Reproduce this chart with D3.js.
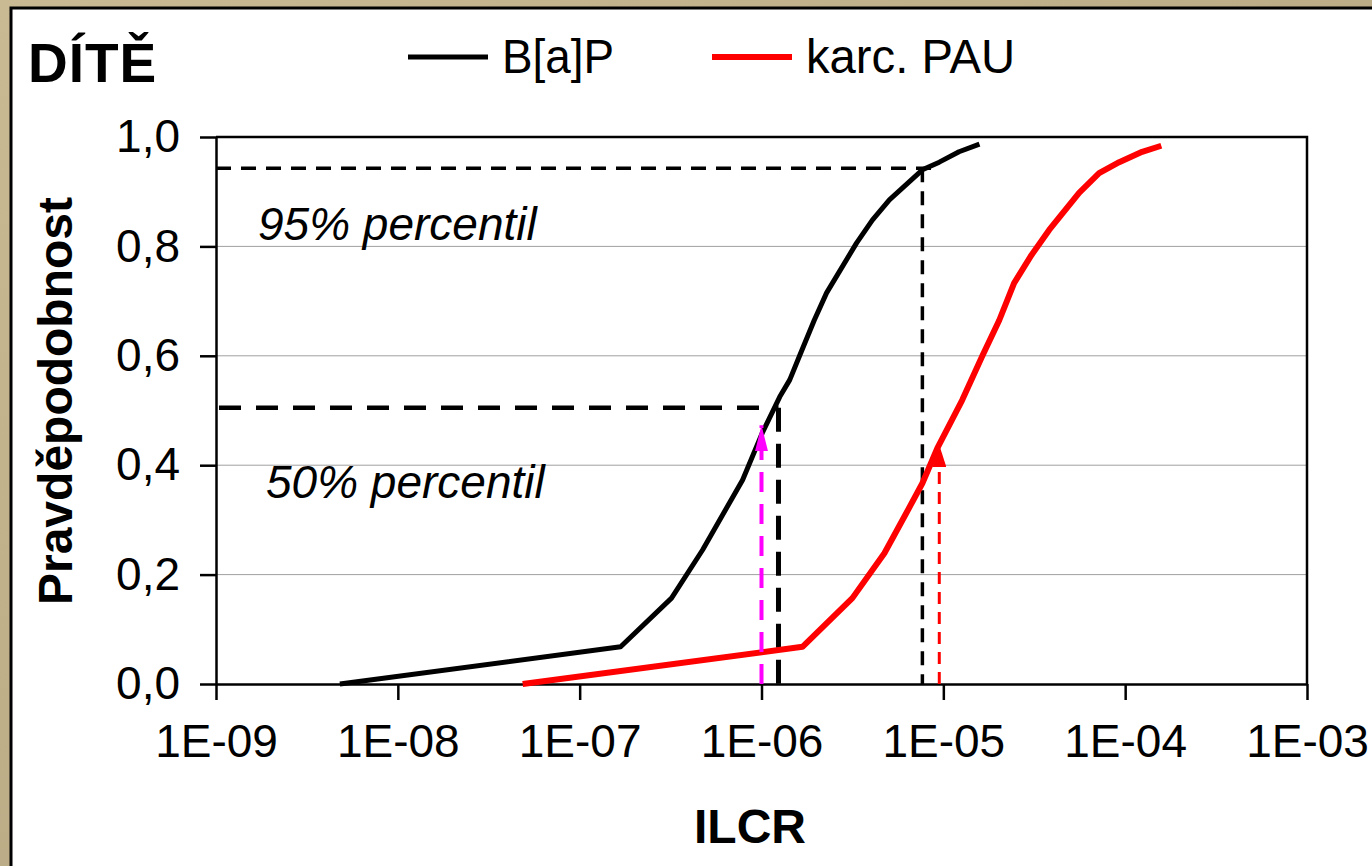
<!DOCTYPE html>
<html lang="cs">
<head>
	<meta charset="UTF-8">
	<script src="https://d3js.org/d3.v7.min.js"></script>
	<title>DÍTĚ - ILCR</title>
	<style>
		body { margin: 0; }
		svg { display: block; font-family: "Liberation Sans", Arial, sans-serif; }
		.grid line { stroke: #a0a0a0; stroke-width: 1; }
		.axis path, .axis line { stroke: #000; stroke-width: 2.5; }
		.axis text { font-size: 46px; fill: #000; }
	</style>
</head>
<body>
	<svg width="1372" height="866"></svg>

	<script>
		// kumulativni rozdeleni ILCR
		const bapIlcr = [4.8e-9, 1.68e-7, 3.2e-7, 4.74e-7, 7.87e-7, 1.01e-6, 1.26e-6, 1.43e-6, 1.62e-6,
			1.95e-6, 2.28e-6, 3.33e-6, 4.07e-6, 5.05e-6, 7.67e-6, 9.5e-6, 1.22e-5, 1.58e-5];
		const bapProb = [0, 0.068, 0.157, 0.245, 0.373, 0.459, 0.525, 0.556, 0.6,
			0.665, 0.715, 0.806, 0.848, 0.885, 0.94, 0.954, 0.973, 0.987];

		const pauIlcr = [4.86e-8, 1.68e-6, 3.16e-6, 4.74e-6, 6.27e-6, 7.67e-6, 9.27e-6, 1.27e-5, 1.64e-5,
			2.03e-5, 2.45e-5, 3.05e-5, 3.82e-5, 5.58e-5, 7.19e-5, 9.27e-5, 1.24e-4, 1.58e-4];
		const pauProb = [0, 0.068, 0.157, 0.239, 0.313, 0.367, 0.431, 0.519, 0.6,
			0.665, 0.733, 0.784, 0.83, 0.898, 0.934, 0.954, 0.973, 0.984];

		const xTicks = [1e-9, 1e-8, 1e-7, 1e-6, 1e-5, 1e-4, 1e-3];
		const xTickLabels = ['1E-09', '1E-08', '1E-07', '1E-06', '1E-05', '1E-04', '1E-03'];
		const yTicks = [0, 0.2, 0.4, 0.6, 0.8, 1.0];
		const yTickLabels = ['0,0', '0,2', '0,4', '0,6', '0,8', '1,0'];

		// percentily: [ILCR, pravdepodobnost]
		const p95 = [7.67e-6, 0.943];
		const p50 = [1.24e-6, 0.505];
		const arrowBap = [1.0e-6, 0.473];
		const arrowPau = [9.5e-6, 0.437];

		const svg = d3.select('svg');

		// ramecek
		const defs = svg.append('defs');
		const grad = defs.append('linearGradient').attr('id', 'bg')
			.attr('x1', '0').attr('y1', '0').attr('x2', '1').attr('y2', '1');
		grad.append('stop').attr('offset', '0%').attr('stop-color', '#c9ba93');
		grad.append('stop').attr('offset', '100%').attr('stop-color', '#b09f7b');
		svg.append('rect').attr('width', 1372).attr('height', 866).attr('fill', 'url(#bg)');
		svg.append('rect')
			.attr('x', 11).attr('y', 8).attr('width', 1400).attr('height', 900)
			.attr('fill', '#fff').attr('stroke', '#000').attr('stroke-width', 3);

		const x = d3.scaleLog().domain([1e-9, 1e-3]).range([216, 1307]);
		const y = d3.scaleLinear().domain([0, 1]).range([684, 137]);

		// mrizka
		svg.append('g').attr('class', 'grid')
			.selectAll('line')
			.data(yTicks.slice(1, -1))
			.enter()
			.append('line')
			.attr('x1', x.range()[0]).attr('x2', x.range()[1])
			.attr('y1', d => y(d)).attr('y2', d => y(d));

		// horni a prava hrana
		svg.append('path')
			.attr('d', `M${x(1e-9)},${y(1)}H${x(1e-3)}V${y(0)}`)
			.attr('fill', 'none').attr('stroke', '#000').attr('stroke-width', 2.5);

		svg.append('g').attr('class', 'axis')
			.attr('transform', `translate(0,${y(0)})`)
			.call(d3.axisBottom(x).tickValues(xTicks).tickSize(16).tickSizeOuter(0).tickPadding(24)
				.tickFormat((d, i) => xTickLabels[i]));

		svg.append('g').attr('class', 'axis')
			.attr('transform', `translate(${x(1e-9)},0)`)
			.call(d3.axisLeft(y).tickValues(yTicks).tickSize(16).tickSizeOuter(0).tickPadding(20)
				.tickFormat((d, i) => yTickLabels[i]));

		// sipky
		const marker = (id, color, w, h) => {
			defs.append('marker').attr('id', id)
				.attr('markerUnits', 'userSpaceOnUse')
				.attr('viewBox', `0 0 ${h} ${w}`)
				.attr('refX', h).attr('refY', w / 2)
				.attr('markerWidth', h).attr('markerHeight', w)
				.attr('orient', 'auto')
				.append('path')
				.attr('d', `M0,0L${h},${w / 2}L0,${w}Z`)
				.attr('fill', color);
		};
		marker('arrM', '#ff00ff', 13, 26);
		marker('arrR', '#ff0000', 14, 22);

		// percentilove cary
		const dash = (x1, y1, x2, y2, color, width, pattern) =>
			svg.append('line')
				.attr('x1', x1).attr('y1', y1).attr('x2', x2).attr('y2', y2)
				.attr('stroke', color).attr('stroke-width', width)
				.attr('stroke-dasharray', pattern);

		dash(x(1e-9), y(p95[1]), x(p95[0]) + 18, y(p95[1]), '#000', 3.5, '15,10');
		dash(x(p95[0]), y(p95[1]), x(p95[0]), y(0), '#000', 3.5, '14,9');
		dash(x(1e-9) + 3, y(p50[1]), x(p50[0]), y(p50[1]), '#000', 4.5, '22,15');
		dash(x(p50[0]), y(p50[1]), x(p50[0]), y(0) + 8, '#000', 5, '24,12');

		// krivky
		const line = d3.line().x(d => x(d[0])).y(d => y(d[1]));
		svg.append('path')
			.datum(d3.zip(bapIlcr, bapProb))
			.attr('d', line)
			.attr('fill', 'none').attr('stroke', '#000').attr('stroke-width', 5)
			.attr('stroke-linejoin', 'round');
		svg.append('path')
			.datum(d3.zip(pauIlcr, pauProb))
			.attr('d', line)
			.attr('fill', 'none').attr('stroke', '#ff0000').attr('stroke-width', 6)
			.attr('stroke-linejoin', 'round');

		dash(x(arrowBap[0]), y(0), x(arrowBap[0]), y(arrowBap[1]), '#ff00ff', 4, '20,12')
			.attr('marker-end', 'url(#arrM)');
		dash(x(arrowPau[0]), y(0), x(arrowPau[0]), y(arrowPau[1]), '#ff0000', 3, '12,8')
			.attr('marker-end', 'url(#arrR)');

		// texty
		svg.append('text').attr('x', 28).attr('y', 82)
			.style('font-size', '55px').style('font-weight', 'bold').style('letter-spacing', '1px')
			.text('DÍTĚ');

		svg.append('text').attr('x', 750).attr('y', 843)
			.attr('text-anchor', 'middle')
			.style('font-size', '48px').style('font-weight', 'bold')
			.text('ILCR');

		svg.append('text')
			.attr('transform', 'translate(72,401) rotate(-90)')
			.attr('text-anchor', 'middle')
			.style('font-size', '48px').style('font-weight', 'bold')
			.text('Pravděpodobnost');

		svg.append('text').attr('x', 258).attr('y', 240)
			.style('font-size', '46px').style('font-style', 'italic')
			.text('95% percentil');
		svg.append('text').attr('x', 266).attr('y', 498)
			.style('font-size', '46px').style('font-style', 'italic')
			.text('50% percentil');

		// legenda
		const legend = [['B[a]P', '#000', 408, 5], ['karc. PAU', '#ff0000', 712, 6]];
		legend.forEach(([name, color, lx, w]) => {
			svg.append('line')
				.attr('x1', lx).attr('x2', lx + 80).attr('y1', 57).attr('y2', 57)
				.attr('stroke', color).attr('stroke-width', w);
			svg.append('text').attr('x', lx + 94).attr('y', 73)
				.style('font-size', '48px')
				.attr('textLength', name === 'B[a]P' ? 112 : 209)
				.attr('lengthAdjust', 'spacingAndGlyphs')
				.text(name);
		});
	</script>
</body>
</html>
